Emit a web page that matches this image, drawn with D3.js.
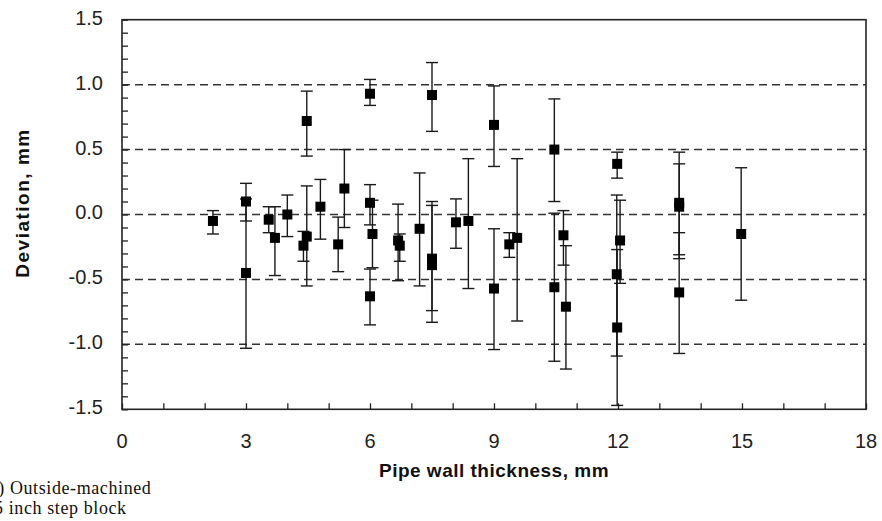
<meta charset="utf-8">
<script src="https://d3js.org/d3.v7.min.js"></script>
<style>
body { margin: 0; background: #fff; }
svg { display: block; }
.grid line { stroke: #333; stroke-width: 1.5; stroke-dasharray: 8,5; }
.tick-label { font-family: "Liberation Sans", Arial, sans-serif; font-size: 20px; fill: #222; }
.title { font-family: "Liberation Sans", Arial, sans-serif; font-size: 19px; font-weight: bold; fill: #111; }
.note { font-family: "Liberation Serif", "Times New Roman", serif; font-size: 18px; fill: #111; }
</style>
<body>
<script>
// measured points: thickness (mm), deviation (mm), error bar low / high
var thickness = [2.2, 3.0, 3.0, 3.55, 3.7, 4.0, 4.47, 4.39, 4.47, 4.8,
                 5.23, 5.38, 6.0, 6.0, 6.06, 6.0, 6.68, 6.72, 7.2, 7.5,
                 7.5, 7.5, 8.08, 8.38, 9.0, 9.0, 9.37, 9.56, 10.46, 10.46,
                 10.68, 10.74, 11.98, 12.05, 11.97, 11.98, 13.48, 13.48, 13.48, 14.98];
var deviation = [-0.05, 0.10, -0.45, -0.04, -0.18, 0.0, 0.72, -0.24, -0.17, 0.06,
                 -0.23, 0.20, 0.93, 0.09, -0.15, -0.63, -0.20, -0.24, -0.11, 0.92,
                 -0.34, -0.39, -0.06, -0.05, 0.69, -0.57, -0.23, -0.18, 0.50, -0.56,
                 -0.16, -0.71, 0.39, -0.20, -0.46, -0.87, 0.09, 0.06, -0.60, -0.15];
var errLow = [-0.15, -0.05, -1.03, -0.14, -0.47, -0.17, 0.45, -0.36, -0.55, -0.19,
              -0.44, -0.10, 0.84, -0.08, -0.41, -0.85, -0.51, -0.36, -0.55, 0.64,
              -0.74, -0.83, -0.26, -0.57, 0.37, -1.04, -0.33, -0.82, 0.10, -1.13,
              -0.39, -1.19, 0.28, -0.53, -1.09, -1.47, -0.31, -0.34, -1.07, -0.66];
var errHigh = [0.03, 0.24, 0.12, 0.06, 0.06, 0.15, 0.95, -0.13, 0.22, 0.27,
               -0.02, 0.50, 1.04, 0.23, 0.11, -0.42, 0.08, -0.15, 0.32, 1.17,
               0.10, 0.07, 0.12, 0.43, 0.99, -0.11, -0.14, 0.43, 0.89, 0.01,
               0.03, -0.24, 0.48, 0.11, 0.15, -0.27, 0.48, 0.39, -0.14, 0.36];

var xTicks = [0, 3, 6, 9, 12, 15, 18];
var yTicks = [-1.5, -1.0, -0.5, 0.0, 0.5, 1.0, 1.5];
var gridValues = [-1.0, -0.5, 0.0, 0.5, 1.0];

var data = thickness.map(function(t, i) {
    return {x: t, y: deviation[i], lo: errLow[i], hi: errHigh[i]};
});

var W = 882, H = 521;
var margin = {top: 19.7, right: 16, bottom: 111.7, left: 122};
var width = W - margin.left - margin.right;
var height = H - margin.top - margin.bottom;

var svg = d3.select("body").append("svg")
    .attr("width", W)
    .attr("height", H);
var g = svg.append("g")
    .attr("transform", "translate(" + margin.left + "," + margin.top + ")");

var xScale = d3.scaleLinear().domain([0, 18]).range([0, width]);
var yScale = d3.scaleLinear().domain([-1.5, 1.5]).range([height, 0]);

// dashed grid lines
g.append("g")
    .attr("class", "grid")
    .selectAll("line")
    .data(gridValues)
    .enter().append("line")
    .attr("x1", 0)
    .attr("x2", width)
    .attr("y1", function(d) { return yScale(d); })
    .attr("y2", function(d) { return yScale(d); });

// minor ticks, pointing inward
var yAxis = d3.axisLeft(yScale)
    .tickValues(d3.range(-15, 16).map(function(v) { return v / 10; }))
    .tickSize(-6)
    .tickFormat("");
g.append("g").call(yAxis)
    .call(function(s) { s.select(".domain").remove(); })
    .selectAll("line").attr("stroke", "#222").attr("stroke-width", 1.3);

var xAxis = d3.axisBottom(xScale)
    .tickValues(d3.range(0, 19))
    .tickSize(-6)
    .tickFormat("");
g.append("g")
    .attr("transform", "translate(0," + height + ")")
    .call(xAxis)
    .call(function(s) { s.select(".domain").remove(); })
    .selectAll("line").attr("stroke", "#222").attr("stroke-width", 1.3);

// frame
g.append("rect")
    .attr("width", width)
    .attr("height", height)
    .attr("fill", "none")
    .attr("stroke", "#222")
    .attr("stroke-width", 1.6);

// tick labels (plain hyphen for negatives, as in the source)
g.selectAll(".ylab")
    .data(yTicks)
    .enter().append("text")
    .attr("class", "tick-label")
    .attr("x", -19)
    .attr("y", function(d) { return yScale(d) - 2; })
    .attr("dy", "0.35em")
    .attr("text-anchor", "end")
    .text(function(d) { return d.toFixed(1); });

g.selectAll(".xlab")
    .data(xTicks)
    .enter().append("text")
    .attr("class", "tick-label")
    .attr("x", function(d) { return xScale(d); })
    .attr("y", height + 39)
    .attr("text-anchor", "middle")
    .text(function(d) { return d; });

// error bars
var bars = g.append("g").selectAll("g")
    .data(data)
    .enter().append("g")
    .attr("stroke", "#1a1a1a")
    .attr("stroke-width", 1.4);
bars.append("line")
    .attr("x1", function(d) { return xScale(d.x); })
    .attr("x2", function(d) { return xScale(d.x); })
    .attr("y1", function(d) { return yScale(d.lo); })
    .attr("y2", function(d) { return yScale(d.hi); });
bars.append("line")
    .attr("x1", function(d) { return xScale(d.x) - 6; })
    .attr("x2", function(d) { return xScale(d.x) + 6; })
    .attr("y1", function(d) { return yScale(d.lo); })
    .attr("y2", function(d) { return yScale(d.lo); });
bars.append("line")
    .attr("x1", function(d) { return xScale(d.x) - 6; })
    .attr("x2", function(d) { return xScale(d.x) + 6; })
    .attr("y1", function(d) { return yScale(d.hi); })
    .attr("y2", function(d) { return yScale(d.hi); });

// square markers
g.selectAll(".pt")
    .data(data)
    .enter().append("rect")
    .attr("class", "pt")
    .attr("x", function(d) { return xScale(d.x) - 5; })
    .attr("y", function(d) { return yScale(d.y) - 5; })
    .attr("width", 10)
    .attr("height", 10)
    .attr("fill", "#000");

// axis titles
svg.append("text")
    .attr("class", "title")
    .attr("x", 494)
    .attr("y", 477)
    .attr("text-anchor", "middle")
    .style("letter-spacing", "0.5px")
    .text("Pipe wall thickness, mm");

svg.append("text")
    .attr("class", "title")
    .attr("transform", "translate(29,203) rotate(-90)")
    .attr("text-anchor", "middle")
    .style("letter-spacing", "1.5px")
    .text("Deviation, mm");

// footnote, cut at the left edge as in the source
svg.append("text")
    .attr("class", "note")
    .attr("x", -18)
    .attr("y", 494)
    .style("letter-spacing", "0.6px")
    .text("(b) Outside-machined");
svg.append("text")
    .attr("class", "note")
    .attr("x", -6)
    .attr("y", 514)
    .style("letter-spacing", "0.6px")
    .text("5 inch step block");
</script>
</body>
